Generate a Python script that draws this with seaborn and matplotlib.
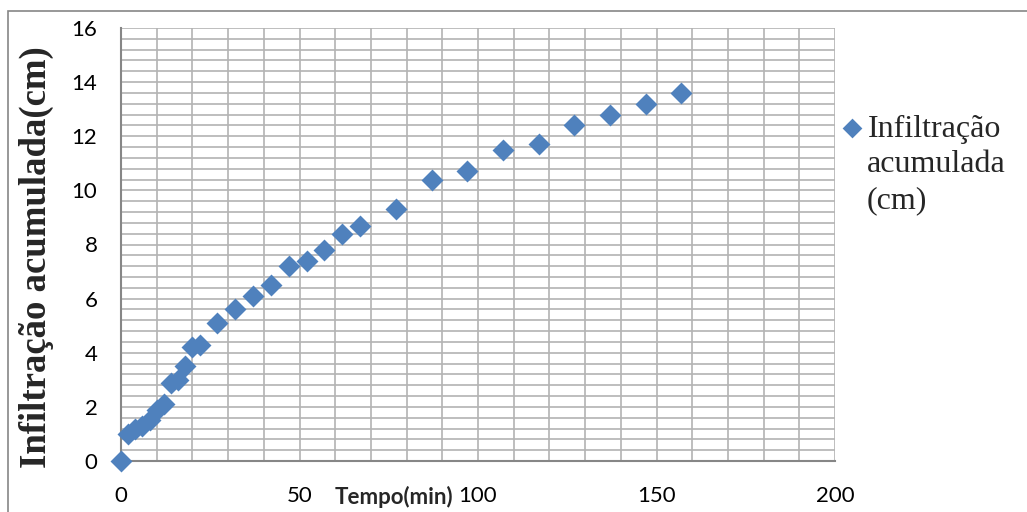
import matplotlib
matplotlib.use("Agg")
import matplotlib.pyplot as plt
import matplotlib.ticker as mticker
from matplotlib.patches import Rectangle
import numpy as np
import pandas as pd
import seaborn as sns

# tempo (min) e infiltração acumulada (cm)
tempo = [0, 2, 4, 6, 8, 10, 12, 14, 16, 18, 20, 22, 27, 32, 37, 42, 47,
         52, 57, 62, 67, 77, 87, 97, 107, 117, 127, 137, 147, 157]
infiltracao = [0.0, 1.0, 1.2, 1.3, 1.5, 1.9, 2.1, 2.9, 3.0, 3.5, 4.2, 4.3,
               5.1, 5.6, 6.1, 6.5, 7.2, 7.4, 7.8, 8.4, 8.7, 9.3, 10.4, 10.7,
               11.5, 11.7, 12.4, 12.8, 13.2, 13.6]
x_ticks = [0, 50, 100, 150, 200]
y_ticks = list(range(0, 17, 2))
serie = ["Infiltração", "acumulada", "(cm)"]

df = pd.DataFrame({"tempo": tempo, "infiltracao": infiltracao})

sns.set_theme(style="white")
plt.rcParams["font.family"] = ["Lato", "DejaVu Sans"]
serif = ["Liberation Serif", "DejaVu Serif"]

fig = plt.figure(figsize=(10.27, 5.12), dpi=100)
ax = fig.add_axes([121 / 1027, 1 - 461 / 512, 714 / 1027, 433 / 512])

grid_c = "#b3b3b3"
axis_c = "#868686"
azul = "#4F81BD"

sns.scatterplot(data=df, x="tempo", y="infiltracao", ax=ax, marker="D",
                s=125, color=azul, linewidth=0, label=serie[0],
                zorder=5, clip_on=False)

ax.set_xlim(0, 200)
ax.set_ylim(0, 16)
ax.set_xticks(x_ticks)
ax.set_yticks(y_ticks)
ax.xaxis.set_minor_locator(mticker.MultipleLocator(10))
ax.yaxis.set_minor_locator(mticker.MultipleLocator(0.4))
ax.grid(which="both", color=grid_c, linewidth=1.2)
ax.set_axisbelow(True)

for s in ["top", "right"]:
    ax.spines[s].set_visible(False)
for s in ["left", "bottom"]:
    ax.spines[s].set_color(axis_c)
    ax.spines[s].set_linewidth(1.5)

ax.tick_params(which="major", direction="out", length=8, width=1.3,
               color=axis_c, labelsize=16, labelcolor="black", pad=9)
ax.tick_params(axis="x", which="major", pad=10)
ax.tick_params(which="minor", length=0)

ax.set_xlabel("Tempo(min)", fontsize=16, fontweight="bold")
ax.xaxis.set_label_coords((394 - 121) / 714, (461 - 497) / 433)
ax.xaxis.label.set_verticalalignment("center")

ax.set_ylabel("Infiltração acumulada(cm)", fontsize=26.5, fontweight="bold",
              family=serif)
ax.yaxis.set_label_coords((36 - 121) / 714, 0.47)
ax.yaxis.label.set_verticalalignment("center")

# legenda: marcador + primeira linha, demais linhas logo abaixo
leg = ax.legend(loc="center left", bbox_to_anchor=(838 / 1027, 1 - 129 / 512),
                bbox_transform=fig.transFigure, frameon=False,
                prop={"family": serif, "size": 23},
                handletextpad=0.05, markerscale=0.9, borderpad=0,
                borderaxespad=0, handlelength=0.9)
for i, linha in enumerate(serie[1:], start=1):
    fig.text(867 / 1027, 1 - (129 + 36 * i) / 512, linha, family=serif,
             fontsize=23, va="center", ha="left")

# moldura externa do gráfico
fig.patches.append(Rectangle((8 / 1027, -0.5), 2.0, 1 - 11 / 512 + 0.5,
                             transform=fig.transFigure, fill=False,
                             edgecolor=axis_c, linewidth=1.2, zorder=0))

fig.savefig("out.png", dpi=100)
